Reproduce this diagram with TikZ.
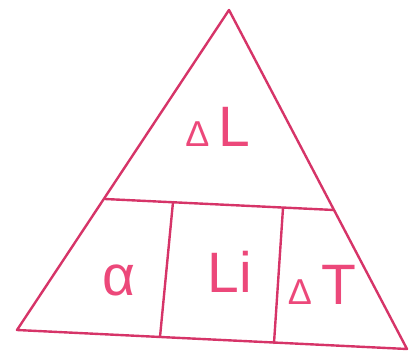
\documentclass[tikz,border=0pt]{standalone}
\usepackage{fontspec}
\setmainfont{Liberation Sans}
\usepackage{tikz}
\usetikzlibrary{positioning,calc}
\definecolor{rosepink}{RGB}{214,52,104}
\definecolor{inkpink}{RGB}{236,72,122}
\newcommand{\smalldelta}{{\fontsize{36}{36}\selectfont Δ}}

\begin{document}
\begin{tikzpicture}[x=1pt, y=-1pt]
    \tikzstyle{edge} = [draw=rosepink, line width=2.4pt, line join=round, line cap=round]
    \tikzstyle{label} = [text=inkpink, font=\fontsize{57}{60}\selectfont, inner sep=0pt]

    \useasboundingbox (0,0) rectangle (412,353);

    % corners of the triangle
    \coordinate (apex) at (229,10);
    \coordinate (bl) at (17,330);
    \coordinate (br) at (407,349);
    % dividers
    \coordinate (hl) at (105,199);
    \coordinate (hr) at (334,210);
    \coordinate (v1t) at (173,202);
    \coordinate (v1b) at (160,337);
    \coordinate (v2t) at (283,208);
    \coordinate (v2b) at (274,343);

    \draw [edge] (apex) -- (br) -- (bl) -- cycle;
    \draw [edge] (hl) -- (hr);
    \draw [edge] (v1t) -- (v1b);
    \draw [edge] (v2t) -- (v2b);

    \node [label] (dl) at (218,127) {\smalldelta\,L};
    \node [label] (alpha) at (119,280) {α};
    \node [label] (li) at (230,272) {Li};
    \node [label] (dt) at (322,285) {\smalldelta\,T};
\end{tikzpicture}
\end{document}
